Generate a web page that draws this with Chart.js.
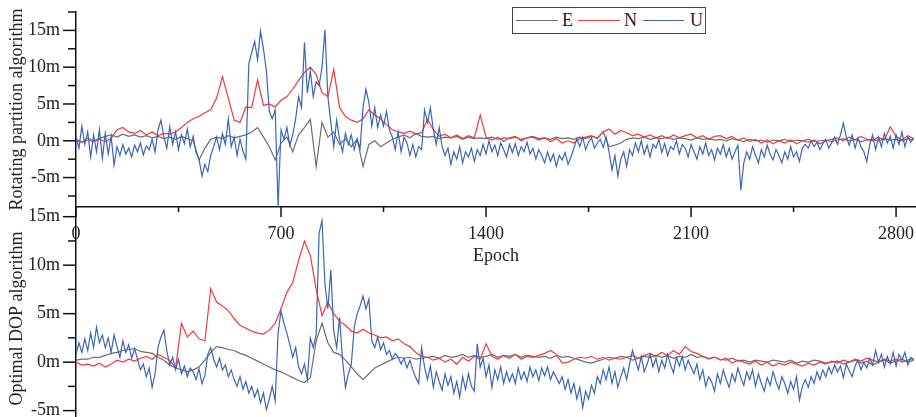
<!DOCTYPE html>
<html>
<head>
<meta charset="utf-8">
<script src="https://cdn.jsdelivr.net/npm/chart.js@4.4.1/dist/chart.umd.min.js"></script>
<style>
  html, body { margin: 0; padding: 0; background: #fff; overflow: hidden; }
  #wrap { position: relative; width: 916px; height: 417px; overflow: hidden; }
  #topBox { position: absolute; left: 0; top: 0; width: 916px; height: 267px; z-index: 2; }
  #botBox { position: absolute; left: 0; top: 200px; width: 916px; height: 240px; z-index: 1; }
  .legend { position: absolute; left: 512px; top: 7px; width: 192px; height: 25px; border: 1px solid #444;
            background: #fff; z-index: 3; font-family: 'Liberation Serif', serif; font-size: 18px; color: #222; }
  .legend .ln { position: absolute; top: 12px; height: 0; border-top: 1.5px solid; }
  .legend .tx { position: absolute; top: 1px; line-height: 22px; }
</style>
</head>
<body>
<div id="wrap">
  <div id="botBox"><canvas id="botChart"></canvas></div>
  <div id="topBox"><canvas id="topChart"></canvas></div>
  <div class="legend">
    <span class="ln" style="left:3px;width:42px;border-color:#6e6e6e"></span><span class="tx" style="left:49px">E</span>
    <span class="ln" style="left:65px;width:42px;border-color:#ee3a3f"></span><span class="tx" style="left:111px">N</span>
    <span class="ln" style="left:130px;width:41px;border-color:#3a66b4"></span><span class="tx" style="left:177px">U</span>
  </div>
</div>
<script>
// ========== Data (metres) ==========
// E and N sampled every 20 epochs, U every 10 epochs
const STEP_EN = 20;
const STEP_U = 10;
const xTicks = [0, 350, 700, 1050, 1400, 1750, 2100, 2450, 2800];

// Rotating partition algorithm (top)
const rotE = [
  0.2, -0.2, 0.4, 0.0, 0.3, 0.6, 0.8, 0.5, 0.9, 0.6,
  0.8, 0.5, 0.7, 0.4, 0.6, 0.3, 0.5, 0.2, 0.6, 0.3,
  0.0, -2.6, -1.0, 0.2, 0.5, 0.3, 0.7, 0.4, 0.6, 0.8,
  1.2, 1.8, 0.5, -0.8, -2.6, -0.3, 0.5, -1.5, 0.8, 1.8,
  2.9, -3.5, 2.5, 0.5, 1.2, -0.5, 0.3, -0.8, 0.2, -3.5,
  -0.5, 0.0, -0.8, -0.3, 0.2, 0.5, 0.8, 0.4, 1.0, 0.6,
  0.5, 0.6, 0.3, 0.5, 0.4, 0.6, 0.2, 0.5, 0.3, 0.4,
  0.3, 0.5, 0.2, 0.4, 0.3, 0.5, 0.2, 0.4, 0.6, 0.3,
  0.4, 0.2, 0.5, 0.3, 0.4, 0.2, 0.5, 0.3, 0.6, 0.4,
  1.2, -0.8, -0.6, -0.3, 0.2, 0.4, 0.3, 0.5, 0.2, 0.4,
  0.3, 0.5, 0.2, 0.4, 0.3, 0.1, 0.4, 0.2, 0.3, 0.1,
  0.2, 0.0, 0.3, 0.1, -0.1, 0.2, 0.0, 0.1, -0.2, 0.1,
  0.0, 0.2, -0.1, 0.1, 0.0, 0.2, -0.1, 0.0, 0.1, -0.1,
  0.1, 0.3, 0.0, 0.2, -0.1, 0.1, 0.2, 0.0, 0.3, 0.1,
  0.2, 0.0, 0.3, 0.1
];
const rotN = [
  0.0, -0.2, 0.1, -0.1, 0.2, -0.1, 0.3, 1.5, 1.8, 1.2,
  1.0, 1.4, 0.8, 1.2, 0.7, 1.0, 0.9, 1.2, 1.8, 2.5,
  3.0, 3.3, 3.8, 4.2, 5.8, 8.7, 5.8, 2.8, 2.5, 4.6,
  4.5, 8.3, 4.8, 5.0, 4.6, 5.5, 6.0, 7.0, 8.2, 9.3,
  10.0, 9.0, 6.5, 6.0, 9.7, 4.5, 3.3, 2.8, 2.5, 3.0,
  4.2, 3.5, 3.0, 2.2, 1.5, 1.2, 1.0, 1.3, 0.9, 1.1,
  2.9, 1.5, 0.6, 0.9, 0.4, 0.8, 0.3, 0.7, 0.4, 3.5,
  0.5, 0.1, 0.5, -0.1, 0.4, 0.6, 0.0, 0.4, 0.5, 0.1,
  0.4, -0.1, 0.3, -0.3, 0.0, -0.3, 0.3, 0.5, 0.7, 0.3,
  1.2, 1.6, 0.9, 1.4, 1.1, 0.7, 0.9, 0.5, 0.8, 0.4,
  0.7, 0.3, 0.8, 0.4, 0.7, 0.9, 0.4, 0.7, 0.2, 0.6,
  0.7, 0.3, 0.6, 0.1, 0.4, -0.1, 0.2, -0.3, 0.1, -0.4,
  0.0, -0.3, 0.1, -0.4, 0.0, -0.2, 0.1, -0.4, 0.0, 0.2,
  0.4, 0.0, 0.5, 0.1, 0.6, 0.2, 0.0, 0.5, 0.1, 1.9,
  0.6, 0.1, 0.7, 0.3
];
const rotU = [
  0.5, -1.0, 2.0, -0.5, 1.2, -2.2, 0.8, -1.5, 1.5, -2.4,
  1.0, -1.8, 0.6, -3.3, -0.8, -2.0, -0.5, -1.8, -1.0, -2.2,
  -0.6, -1.5, -0.3, -1.9, -0.7, -1.2, 0.2, -1.5, 1.5, 2.8,
  0.5, -1.0, 1.9, -0.5, 1.2, -1.2, 0.8, -0.4, 1.6, -0.8,
  0.6, -1.6, -2.5, -4.8, -3.2, -4.2, -2.0, -0.8, 0.5, -1.2,
  1.0, -0.5, 3.0, -0.8, 0.5, -2.0, 0.2, -1.4, -2.5, 10.5,
  12.0, 13.5, 11.0, 14.9, 12.5, 9.5, 4.0, 3.0, 4.2, -9.0,
  1.5, 0.2, 1.8, -0.6, 0.8, 3.0, 6.0, 4.5, 13.4, 6.5,
  9.5, 6.0, 8.0, 7.5, 10.0, 15.1, 6.0, 2.5, -0.8, 2.8,
  0.2, -1.5, 1.0, -0.5, 0.8, -1.2, 0.3, -1.0, 4.5, 7.0,
  5.2, 2.0, 4.5, 1.8, 3.5, 2.0, 4.0, 1.5, 0.5, -1.2,
  1.2, -1.5, 0.5, -0.3, -2.0, -0.5, -2.2, -0.8, -1.2, 4.2,
  2.5, 4.5, 1.5, -0.5, 1.8, -0.8, -2.0, -1.0, -3.2, -1.5,
  -2.5, -0.8, -3.0, -1.5, -2.2, -1.0, -2.8, -1.2, -2.0, -0.5,
  -1.8, 0.0, -1.5, -0.6, -2.0, -0.3, -1.2, -2.2, -0.5, -1.6,
  -0.4, -2.0, -0.8, -1.5, -0.2, -1.8, -1.0, -2.5, -1.2, -2.0,
  -3.0, -1.5, -2.8, -1.8, -3.5, -2.0, -2.6, -1.6, -3.2, -2.2,
  -1.0, 0.3, -0.8, 0.5, -1.2, -0.2, 0.4, -1.0, -0.3, 0.2,
  -0.9, 0.5, -1.5, -4.0, -2.0, -4.8, -2.5, -1.5, -3.5, -1.2,
  -2.0, -0.3, -1.5, 0.0, -1.8, -0.6, -2.2, -0.5, -1.0, 0.2,
  -1.6, -0.4, -2.0, -0.8, -1.2, 0.0, -1.8, -0.5, -1.0, -2.2,
  -0.5, -1.5, -2.5, -0.8, -1.8, -0.3, -2.0, -1.2, -2.6, -1.0,
  -1.8, -0.5, -2.2, -1.0, -2.5, -1.5, -0.6, -6.7, -3.0, -1.5,
  -2.5, -0.8, -2.0, -3.0, -1.2, -2.2, -0.6, -1.8, -2.6, -1.2,
  -2.0, -3.0, -1.5, -2.5, -0.8, -2.2, -1.5, -2.8, -1.0, -0.5,
  -1.0, 0.0, -0.8, -0.2, -1.2, -0.4, 0.2, -1.0, -0.3, 0.5,
  -0.5, 0.8, 2.4, 0.5, -0.6, 0.8, -1.0, 0.4, -0.8, -1.5,
  -2.8, -0.5, 0.8, -1.2, 0.5, -0.8, 1.0, -0.3, 0.6, -1.0,
  0.8, -0.5, 1.2, -0.8, 0.6, -0.2, 0.4
];

// Optimal DOP algorithm (bottom)
const dopE = [
  0.2, 0.3, 0.3, 0.5, 0.5, 0.7, 0.9, 1.0, 1.2, 1.3,
  1.4, 1.1, 1.0, 0.9, 0.5, 0.2, -0.3, -0.6, -0.8, -1.0,
  -0.8, -0.5, 0.2, 1.0, 1.6, 1.5, 1.3, 1.2, 0.9, 0.7,
  0.4, 0.1, -0.2, -0.5, -0.8, -1.0, -1.3, -1.6, -1.9, -2.1,
  -1.6, 2.2, 4.0, 2.0, 1.0, 0.8, 0.2, -0.5, -1.2, -1.8,
  -1.2, -0.6, -0.3, 0.0, 0.3, 0.5, 0.4, 0.5, 0.3, 0.4,
  0.5, 0.6, 0.4, 0.7, 0.5, 0.6, 0.8, 0.5, 0.7, 0.5,
  0.6, 0.8, 0.5, 0.7, 0.6, 0.8, 0.5, 0.7, 0.6, 0.5,
  0.6, 0.4, 0.7, 0.5, 0.6, 0.4, 0.2, 0.0, -0.1, 0.1,
  0.3, 0.5, 0.4, 0.6, 0.5, 0.7, 0.4, 0.6, 0.5, 0.7,
  0.5, 0.7, 0.4, 0.6, 0.5, 0.8, 0.5, 0.6, 0.4, 0.5,
  0.3, 0.2, 0.4, 0.1, 0.2, 0.0, 0.2, 0.1, 0.0, 0.2,
  0.1, 0.0, 0.2, -0.1, 0.1, 0.0, 0.2, 0.1, -0.1, 0.0,
  0.1, -0.2, 0.0, 0.2, -0.1, 0.1, -0.3, 0.0, 0.2, -0.1,
  0.1, 0.3, 0.0, 0.2
];
const dopN = [
  0.0, -0.3, -0.2, -0.4, -0.1, -0.5, -0.2, 0.2, 0.0, 0.3,
  0.1, 0.4, 0.6, 0.3, 0.8, 0.5, 0.2, -0.6, 4.0, 2.6,
  3.2, 2.4, 2.2, 7.6, 6.2, 5.8, 5.3, 4.5, 3.8, 3.5,
  3.2, 3.0, 2.9, 3.3, 4.0, 5.5, 7.2, 8.2, 10.5, 12.5,
  11.0, 7.5, 4.8, 6.2, 5.0, 4.2, 3.8, 3.2, 3.0, 3.4,
  3.0, 2.8, 2.5, 2.6, 2.2, 2.4, 1.9, 1.6, 1.0, 0.6,
  0.5, 0.2, 0.4, 0.0, 0.3, -0.2, 0.5, 0.1, 0.6, 0.3,
  1.9, 0.6, 0.3, 0.7, 0.4, 0.8, 0.3, 0.6, 0.5, 0.7,
  0.9, 1.2, 0.8, -0.1, 0.0, 0.3, 0.5, 0.4, 0.6, 0.3,
  0.5, 0.2, 0.4, 0.3, 0.5, 0.2, 0.4, 0.7, 0.9, 0.6,
  1.0, 0.7, 1.2, 0.8, 1.6, 1.1, 0.9, 0.6, 0.3, 0.5,
  0.2, 0.4, -0.1, 0.2, 0.0, -0.2, 0.1, -0.3, 0.0, -0.4,
  -0.1, -0.3, 0.0, -0.2, -0.4, -0.1, -0.3, 0.0, -0.2, 0.1,
  -0.1, 0.2, 0.0, 0.3, 0.1, 0.4, 0.2, 0.0, 0.3, 0.1,
  0.3, 0.0, 0.2, 0.4
];
const dopU = [
  0.8, 2.0, 1.0, 2.4, 1.2, 3.0, 1.5, 3.6, 2.0, 2.8,
  1.5, 2.5, 1.0, 2.8, 1.6, 0.5, 2.2, 1.0, 1.8, 0.4,
  1.4, 0.3, -0.8, -0.2, -1.5, -0.6, -2.6, -1.2, 1.5, 2.6,
  3.3, 1.2, -0.3, 0.5, -0.8, 0.3, -1.2, -0.4, -1.5, -0.6,
  -1.0, -1.8, -0.7, -2.2, -1.4, 0.8, 1.5, 0.3, -0.5, 0.4,
  -0.8, -0.3, -1.5, -0.8, -1.8, -2.5, -1.5, -2.8, -2.0, -3.2,
  -2.5, -3.6, -2.8, -4.2, -3.2, -4.9, -3.8, -2.5, -4.0, 3.0,
  5.3, 4.0, 3.0, 1.8, 0.5, 1.5, -0.5, -1.2, -0.2, -1.8,
  2.5, 1.5, 2.8, 13.3, 14.6, 8.0, 5.5, 9.5, 3.2, 1.5,
  4.6, 0.2, -2.6, -1.2, -0.2, 3.6, 5.0, 5.8, 6.8, 5.5,
  6.5, 2.2, 1.5, 2.6, 1.3, 2.0, 0.8, 1.2, 0.3, 0.9,
  0.5, -0.2, 0.4, -0.6, 0.2, -0.8, -1.6, -2.2, 1.5, -0.5,
  -1.8, -0.4, -2.6, -1.0, -2.0, -2.9, -1.2, -2.4, -1.5, -3.2,
  -2.0, -3.6, -1.5, -2.8, -1.2, -2.5, -3.0, 1.9, -0.5, 0.4,
  -1.5, -0.3, -2.6, -0.8, -1.8, -0.5, -2.2, -1.0, -2.0, -1.2,
  -2.2, -0.6, -1.8, -1.0, -2.0, -0.5, -1.5, -0.8, -1.9, -0.6,
  -1.4, -0.5, -1.8, -1.0, -1.6, -2.2, -1.5, -2.8, -1.8, -3.2,
  -2.2, -3.8, -2.6, -4.7, -3.0, -3.8, -2.4, -3.2, -1.5, -2.2,
  -0.8, -1.8, -0.5, -2.2, -1.0, -2.6, -1.5, -0.6, -1.8, -0.2,
  1.2, 0.2, -0.8, 0.6, -1.0, -0.2, 0.8, -0.5, 0.4, -1.0,
  0.2, -0.6, 0.8, -0.3, -1.1, 0.5, -0.4, 0.6, -0.8, 0.2,
  -0.5, -1.2, -0.2, -1.8, -0.8, -2.5, -1.5, -2.0, -3.0, -1.2,
  -2.2, -0.8, -1.8, -2.6, -1.2, -2.0, -0.6, -1.6, -2.4, -1.0,
  -1.8, -0.8, -2.5, -1.2, -2.2, -3.0, -1.6, -2.4, -1.0, -2.0,
  -2.8, -1.5, -2.2, -3.2, -2.0, -2.8, -1.5, -3.9, -2.5, -1.8,
  -2.6, -1.5, -2.2, -1.0, -1.8, -0.8, -1.5, -0.5, -1.2, -0.3,
  -1.0, -0.4, -1.6, -0.2, -0.9, -1.5, -0.4, 0.2, -0.8, 0.0,
  -0.6, 0.4, -0.3, 1.2, 0.0, 0.8, -0.5, 0.6, -0.2, 1.0,
  -0.4, 0.8, 0.2, 1.0, -0.3, 0.5, 0.2
];

// ========== Styles ==========
const FONT = 'Liberation Serif';
const COLORS = { E: '#6e6e6e', N: '#ee3a3f', U: '#3a66b4' };

const toPoints = (vals, step) => vals.map((v, i) => ({ x: i * step, y: v }));

function makeDatasets(e, n, u) {
  return [
    { label: 'E', data: toPoints(e, STEP_EN), borderColor: COLORS.E, order: 3 },
    { label: 'N', data: toPoints(n, STEP_EN), borderColor: COLORS.N, order: 2 },
    { label: 'U', data: toPoints(u, STEP_U), borderColor: COLORS.U, order: 1 }
  ].map(d => Object.assign(d, { borderWidth: 1.2, pointRadius: 0, tension: 0, fill: false }));
}

// major/minor tick marks drawn on the scales
const tickMarks = {
  id: 'tickMarks',
  afterDraw(chart) {
    const ctx = chart.ctx;
    ctx.save();
    ctx.strokeStyle = '#111';
    ctx.lineWidth = 1.5;
    Object.values(chart.scales).forEach(s => {
      if (!s.options.display) return;
      s.ticks.forEach(t => {
        const p = s.getPixelForValue(t.value);
        ctx.beginPath();
        if (s.axis === 'x') {
          const len = t.value % 700 === 0 ? 10 : 5;
          ctx.moveTo(p, s.top); ctx.lineTo(p, s.top + len);
        } else {
          const len = t.value % 5 === 0 ? 13 : 8;
          ctx.moveTo(s.right - len, p); ctx.lineTo(s.right, p);
        }
        ctx.stroke();
      });
    });
    ctx.restore();
  }
};

function yScale(min, max, ticks, title) {
  return {
    type: 'linear',
    min, max,
    afterBuildTicks: s => { s.ticks = ticks.map(v => ({ value: v })); },
    afterFit: s => { s.width = 76; s.paddingTop = 0; s.paddingBottom = 0; },
    grid: { display: true, drawOnChartArea: false, drawTicks: false },
    border: { display: true, color: '#111', width: 1.5 },
    ticks: {
      autoSkip: false,
      padding: 16,
      color: '#222',
      font: { family: FONT, size: 18 },
      callback: v => (v % 5 === 0 ? `${v}m` : '')
    },
    title: { display: true, text: title, color: '#222', padding: { top: 6, bottom: 0 }, font: { family: FONT, size: 18 } }
  };
}

function xScale(show) {
  return {
    type: 'linear',
    min: 0, max: 2868,
    display: show,
    afterBuildTicks: s => { s.ticks = xTicks.map(v => ({ value: v })); },
    afterFit: s => {
      s.paddingLeft = 0; s.paddingRight = 0;
      if (show) s.height = 60;
    },
    grid: { display: true, drawOnChartArea: false, drawTicks: false },
    border: { display: true, color: '#111', width: 1.5 },
    ticks: {
      autoSkip: false,
      padding: 16,
      maxRotation: 0,
      color: '#222',
      font: { family: FONT, size: 18 },
      callback: v => (v % 700 === 0 ? String(v) : '')
    },
    title: { display: true, text: 'Epoch', color: '#222', padding: { top: 0, bottom: 0 }, font: { family: FONT, size: 18 } }
  };
}

const baseOptions = {
  responsive: true,
  maintainAspectRatio: false,
  animation: false,
  plugins: { legend: { display: false }, tooltip: { enabled: false } }
};

// ========== Charts ==========
new Chart(document.getElementById('topChart'), {
  type: 'line',
  data: { datasets: makeDatasets(rotE, rotN, rotU) },
  options: Object.assign({}, baseOptions, {
    layout: { padding: { top: 12, right: 0, bottom: 0, left: 0 } },
    scales: {
      x: xScale(true),
      y: yScale(-9, 17.5, [-7.5, -5, -2.5, 0, 2.5, 5, 7.5, 10, 12.5, 15, 17.5], 'Rotating partition algorithm')
    }
  }),
  plugins: [tickMarks]
});

new Chart(document.getElementById('botChart'), {
  type: 'line',
  data: { datasets: makeDatasets(dopE, dopN, dopU) },
  options: Object.assign({}, baseOptions, {
    layout: { padding: { top: 7, right: 0, bottom: 10, left: 0 } },
    scales: {
      x: xScale(false),
      y: yScale(-7, 16, [-5, -2.5, 0, 2.5, 5, 7.5, 10, 12.5, 15], 'Optimal DOP algorithm')
    }
  }),
  plugins: [tickMarks]
});
</script>
</body>
</html>
